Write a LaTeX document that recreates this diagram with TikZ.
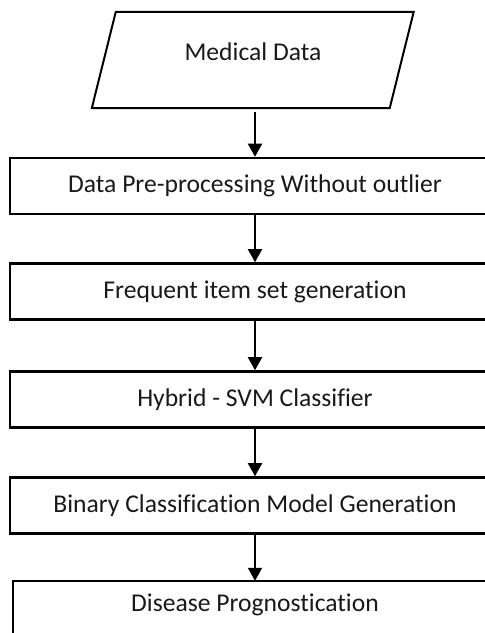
\documentclass[tikz,border=0pt]{standalone}
\usepackage{fontspec}
\setmainfont{Carlito}[Ligatures=NoCommon]
\usetikzlibrary{arrows.meta}
\begin{document}
\begin{tikzpicture}[x=1pt,y=-1pt,
  txt/.style={font=\fontsize{25.6}{30}\selectfont, text=black!90},
  stepbox/.style={draw=black, line width=2.6pt, minimum width=490pt, minimum height=56pt, inner sep=0pt, txt},
  arr/.style={draw=black, line width=1.9pt, -{Triangle[width=14pt,length=13pt]}}]
\useasboundingbox (0,0) rectangle (485,633);
% input parallelogram
\node[minimum width=297.5pt, minimum height=96pt, inner sep=0pt] (md) at (252.75,60) {};
\draw[line width=2pt] ([xshift=-12pt]md.south west) -- ([xshift=-12pt]md.south east)
  -- ([xshift=12pt]md.north east) -- ([xshift=12pt]md.north west) -- cycle;
\node[txt] (mdt) at (253,52) {Medical Data};
% process boxes
\node[stepbox] (b1) at (255,186) {Data Pre-processing Without outlier};
\node[stepbox] (b2) at (255,291.5) {Frequent item set generation};
\node[stepbox] (b3) at (255,399.5) {Hybrid - SVM Classifier};
\node[stepbox] (b4) at (255,505.5) {Binary Classification Model Generation};
\node[txt, minimum width=484pt, minimum height=48pt, inner sep=0pt] (b5) at (255,605) {Disease Prognostication};
\draw[line width=2.6pt] (b5.north west) rectangle ([yshift=-40pt]b5.south east);
% connectors
\draw[arr, shorten <=4pt] (md.south -| b1.north) -- (b1.north);
\draw[arr] (b1.south) -- (b2.north);
\draw[arr] (b2.south) -- (b3.north);
\draw[arr] (b3.south) -- (b4.north);
\draw[arr] (b4.south) -- (b5.north);
\end{tikzpicture}
\end{document}
